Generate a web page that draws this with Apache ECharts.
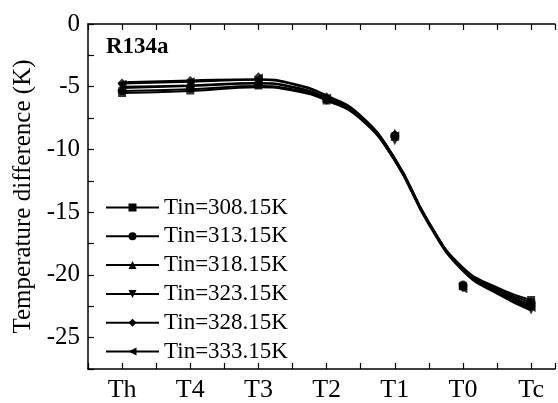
<!DOCTYPE html>
<html>
<head>
<meta charset="utf-8">
<script src="https://cdn.jsdelivr.net/npm/echarts@6/dist/echarts.min.js"></script>
<style>
  html, body { margin: 0; padding: 0; background: #fff; }
  #eChart { width: 558px; height: 403px; }
</style>
</head>
<body>
<div id="eChart"></div>
<script>
// positions along x: Th..Tc
var categories = ['Th', 'T4', 'T3', 'T2', 'T1', 'T0', 'Tc'];
var seriesNames = ['Tin=308.15K', 'Tin=313.15K', 'Tin=318.15K', 'Tin=323.15K', 'Tin=328.15K', 'Tin=333.15K'];

// measured points (K)
var pts308 = [-5.5, -5.3, -4.9, -6.1, -9.0, -20.9, -22.0];
var pts313 = [-5.3, -5.1, -4.8, -6.0, -8.9, -20.8, -22.2];
var pts318 = [-5.1, -4.9, -4.5, -5.9, -8.7, -20.8, -22.4];
var pts323 = [-5.0, -4.9, -4.6, -6.1, -9.3, -21.0, -22.8];
var pts328 = [-4.7, -4.5, -4.2, -5.8, -8.8, -21.0, -22.5];
var pts333 = [-4.8, -4.6, -4.3, -5.9, -8.9, -21.1, -22.6];

var fitX = [1, 2, 3, 3.5, 4, 4.5, 5, 5.5, 6, 6.5, 7];
var fit308 = [-5.5, -5.35, -5.05, -5.3, -6.1, -7.6, -10.9, -15.9, -19.4, -21.0, -22.0];
var fit313 = [-5.35, -5.2, -4.95, -5.2, -6.0, -7.5, -10.8, -15.9, -19.5, -21.1, -22.2];
var fit318 = [-5.1, -4.95, -4.75, -5.05, -5.9, -7.4, -10.7, -15.8, -19.5, -21.2, -22.4];
var fit323 = [-5.0, -4.9, -4.7, -5.0, -5.9, -7.45, -10.9, -16.0, -19.7, -21.5, -22.85];
var fit328 = [-4.65, -4.5, -4.4, -4.75, -5.7, -7.3, -10.7, -15.8, -19.6, -21.3, -22.55];
var fit333 = [-4.75, -4.6, -4.45, -4.8, -5.75, -7.35, -10.8, -15.9, -19.6, -21.4, -22.7];

var points = [pts308, pts313, pts318, pts323, pts328, pts333];
var fits = [fit308, fit313, fit318, fit323, fit328, fit333];
var symbols = ['rect', 'circle', 'triangle', 'triangle', 'diamond', 'triangle'];
var rotates = [0, 0, 0, 180, 0, 90];

var font = "'Liberation Serif', 'Times New Roman', Times, serif";

function pair(xs, ys) {
  return ys.map(function (y, i) { return [xs[i], y]; });
}

var chart = echarts.init(document.getElementById('eChart'));

var series = [];
// fit lines first so the legend picks them up (line + marker icon)
fits.forEach(function (f, i) {
  series.push({
    name: seriesNames[i],
    type: 'line',
    smooth: 0.5,
    showSymbol: false,
    symbol: symbols[i],
    symbolRotate: rotates[i],
    symbolSize: 9,
    color: '#000',
    lineStyle: { color: '#000', width: 2 },
    data: pair(fitX, f),
    z: 2
  });
});
points.forEach(function (p, i) {
  series.push({
    name: seriesNames[i],
    type: 'scatter',
    symbol: symbols[i],
    symbolRotate: rotates[i],
    symbolSize: symbols[i] === 'rect' ? 8 : 9,
    itemStyle: { color: '#000' },
    data: pair(categories.map(function (c, k) { return k + 1; }), p),
    z: 3
  });
});

var option = {
  animation: false,
  backgroundColor: '#fff',
  title: {
    text: 'R134a',
    left: 101,
    top: 31,
    textStyle: { fontFamily: font, fontSize: 23, fontWeight: 'bold', color: '#000' }
  },
  legend: {
    orient: 'vertical',
    left: 105,
    top: 196,
    padding: 0,
    itemWidth: 53,
    itemHeight: 10,
    itemGap: 5.8,
    data: seriesNames,
    textStyle: { fontFamily: font, fontSize: 23, lineHeight: 23, color: '#000' }
  },
  grid: { left: 88, right: 0, top: 24, bottom: 28 },
  xAxis: [{
    type: 'value',
    min: 0.5,
    max: 7.35,
    interval: 0.5,
    axisLine: { onZero: false, lineStyle: { color: '#000', width: 1.5 } },
    axisTick: { inside: true, length: 6, lineStyle: { color: '#000', width: 1.2 } },
    splitLine: { show: false },
    axisLabel: {
      margin: 8,
      fontFamily: font,
      fontSize: 26,
      color: '#000',
      formatter: function (v) {
        return Number.isInteger(v) && v >= 1 && v <= 7 ? categories[v - 1] : '';
      }
    }
  }, {
    type: 'value',
    position: 'top',
    min: 0.5,
    max: 7.35,
    interval: 0.5,
    axisLine: { onZero: false, lineStyle: { color: '#000', width: 1.5 } },
    axisTick: { inside: true, length: 6, lineStyle: { color: '#000', width: 1.2 } },
    splitLine: { show: false },
    axisLabel: { show: false }
  }],
  yAxis: {
    type: 'value',
    min: -27.5,
    max: 0,
    interval: 2.5,
    name: 'Temperature difference (K)',
    nameLocation: 'middle',
    nameGap: 52,
    nameTextStyle: { fontFamily: font, fontSize: 25, color: '#000' },
    axisLine: { show: true, onZero: false, lineStyle: { color: '#000', width: 1.5 } },
    axisTick: { inside: true, length: 6, lineStyle: { color: '#000', width: 1.2 } },
    splitLine: { show: false },
    axisLabel: {
      margin: 8,
      fontFamily: font,
      fontSize: 25,
      color: '#000',
      formatter: function (v) {
        return v % 5 === 0 ? String(v) : '';
      }
    }
  },
  series: series
};

chart.setOption(option);
</script>
</body>
</html>
